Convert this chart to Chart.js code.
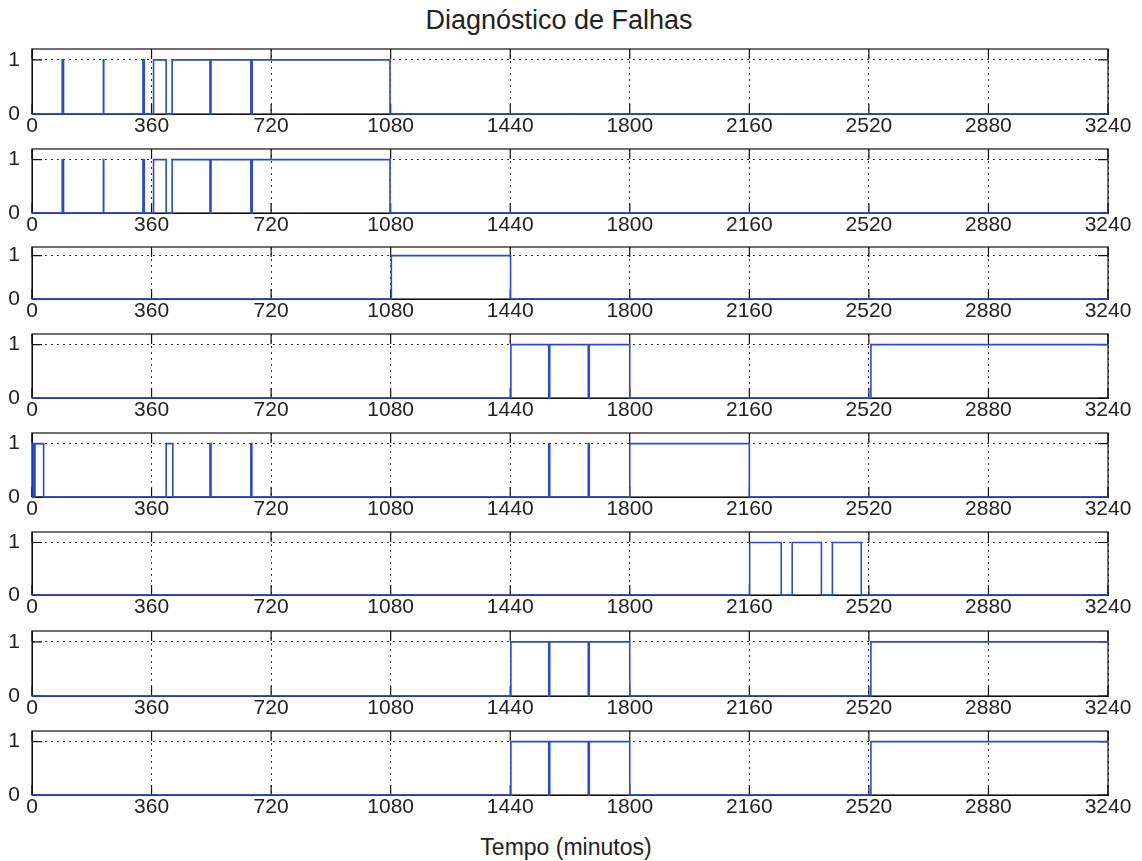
<!DOCTYPE html>
<html>
<head>
<meta charset="utf-8">
<title>Diagnóstico de Falhas</title>
<script src="https://cdn.jsdelivr.net/npm/chart.js@4.4.0/dist/chart.umd.min.js"></script>
<style>
    body {
        margin: 0;
        background: #fff;
        width: 1142px;
        height: 861px;
        position: relative;
        overflow: hidden;
        font-family: 'Liberation Sans', Arial, sans-serif;
        color: #222;
    }
    #titulo {
        position: absolute;
        left: 0; width: 1118px;
        top: 7px;
        font-size: 27px; line-height: 27px;
        text-align: center;
    }
    #rotuloX {
        position: absolute;
        left: 0; width: 1132px;
        top: 836px;
        font-size: 23px; line-height: 23px;
        text-align: center;
    }
    .painel { position: absolute; left: 0; }
</style>
</head>
<body>
<div id="titulo">Diagnóstico de Falhas</div>
<div id="rotuloX">Tempo (minutos)</div>

<script>
// Eixo do tempo (minutos)
const tempoMax = 3240;
const passoTempo = 360;

// Sinais de falha: pares [instante, estado] onde o estado muda (degrau)
const falhaA = [[0,0],[91,1],[95,0],[215,1],[216,0],[334,1],[338,0],[366,1],[404,0],[422,1],
                [536,0],[539,1],[659,0],[663,1],[1078,0],[3240,0]];
const falhaB = [[0,0],[1082,1],[1441,0],[3240,0]];
const falhaC = [[0,0],[1442,1],[1556,0],[1559,1],[1675,0],[1678,1],[1800,0],[2526,1],[3240,1]];
const falhaD = [[0,0],[3,1],[6,0],[9,1],[35,0],[404,1],[424,0],[536,1],[539,0],[659,1],[662,0],
                [1556,1],[1559,0],[1675,1],[1678,0],[1800,1],[2160,0],[3240,0]];
const falhaE = [[0,0],[2161,1],[2256,0],[2289,1],[2377,0],[2410,1],[2497,0],[3240,0]];

const sinais = [falhaA, falhaA, falhaB, falhaC, falhaD, falhaE, falhaC, falhaC];

// Posição de cada caixa (topo e altura em px)
const topos   = [49, 149, 247, 334, 433, 532, 631, 731];
const alturas = [65, 64, 52, 64, 64, 63, 65, 64];

const LARGURA = 1142;
const MARGEM_ESQ = 32;
const MARGEM_DIR = 34;
const FOLGA_TOPO = 6;
const ALTURA_EIXO_X = 26;
const TAM_TICK = 10;
const FONTE = "'Liberation Sans', Arial, sans-serif";

// Caixa estilo matlab com marcas internas
const caixaPlugin = {
    id: 'caixa',
    beforeDatasetsDraw(chart) {
        const { ctx, chartArea: a, scales } = chart;
        ctx.save();
        ctx.strokeStyle = '#111';
        ctx.lineWidth = 1.2;
        ctx.strokeRect(a.left, a.top, a.right - a.left, a.bottom - a.top);
        ctx.beginPath();
        scales.x.ticks.forEach(t => {
            const px = scales.x.getPixelForValue(t.value);
            ctx.moveTo(px, a.top); ctx.lineTo(px, a.top + TAM_TICK);
            ctx.moveTo(px, a.bottom); ctx.lineTo(px, a.bottom - TAM_TICK);
        });
        scales.y.ticks.forEach(t => {
            const py = scales.y.getPixelForValue(t.value);
            ctx.moveTo(a.left, py); ctx.lineTo(a.left + TAM_TICK, py);
            ctx.moveTo(a.right, py); ctx.lineTo(a.right - TAM_TICK, py);
        });
        ctx.stroke();
        ctx.restore();
    }
};

// tira o recuo automático que o chart.js dá aos rótulos
function semRecuo(s) {
    s.paddingTop = 0; s.paddingBottom = 0;
    s.paddingLeft = 0; s.paddingRight = 0;
}

function criarPainel(i) {
    const wrap = document.createElement('div');
    wrap.className = 'painel';
    const h = alturas[i] + FOLGA_TOPO + ALTURA_EIXO_X;
    wrap.style.top = (topos[i] - FOLGA_TOPO) + 'px';
    wrap.style.width = LARGURA + 'px';
    wrap.style.height = h + 'px';
    const canvas = document.createElement('canvas');
    canvas.width = LARGURA;
    canvas.height = h;
    wrap.appendChild(canvas);
    document.body.appendChild(wrap);

    new Chart(canvas.getContext('2d'), {
        type: 'line',
        data: {
            datasets: [{
                data: sinais[i].map(p => ({ x: p[0], y: p[1] })),
                stepped: 'before',
                borderColor: '#2a48dc',
                borderWidth: 1.6,
                pointRadius: 0,
                fill: false,
                clip: 4
            }]
        },
        options: {
            responsive: false,
            animation: false,
            layout: { padding: { top: FOLGA_TOPO, right: MARGEM_DIR, left: 0, bottom: 0 } },
            plugins: { legend: { display: false }, tooltip: { enabled: false } },
            scales: {
                x: {
                    type: 'linear',
                    min: 0, max: tempoMax,
                    afterFit: s => { s.height = ALTURA_EIXO_X; semRecuo(s); },
                    ticks: {
                        stepSize: passoTempo,
                        maxRotation: 0,
                        padding: 0,
                        color: '#222',
                        callback: v => String(v),
                        font: { family: FONTE, size: 21 }
                    },
                    grid: { color: '#333', lineWidth: 1, drawTicks: false },
                    border: { display: true, color: '#111', dash: [2, 4] }
                },
                y: {
                    min: 0, max: 1.2,
                    afterFit: s => { s.width = MARGEM_ESQ; semRecuo(s); },
                    afterBuildTicks: s => { s.ticks = [{ value: 0 }, { value: 1 }]; },
                    ticks: {
                        padding: 12,
                        color: '#222',
                        callback: v => String(v),
                        font: { family: FONTE, size: 21 }
                    },
                    grid: { color: '#333', lineWidth: 1, drawTicks: false },
                    border: { display: true, color: '#111', dash: [2, 4] }
                }
            }
        },
        plugins: [caixaPlugin]
    });
}

for (let i = 0; i < sinais.length; i++) criarPainel(i);
</script>
</body>
</html>
